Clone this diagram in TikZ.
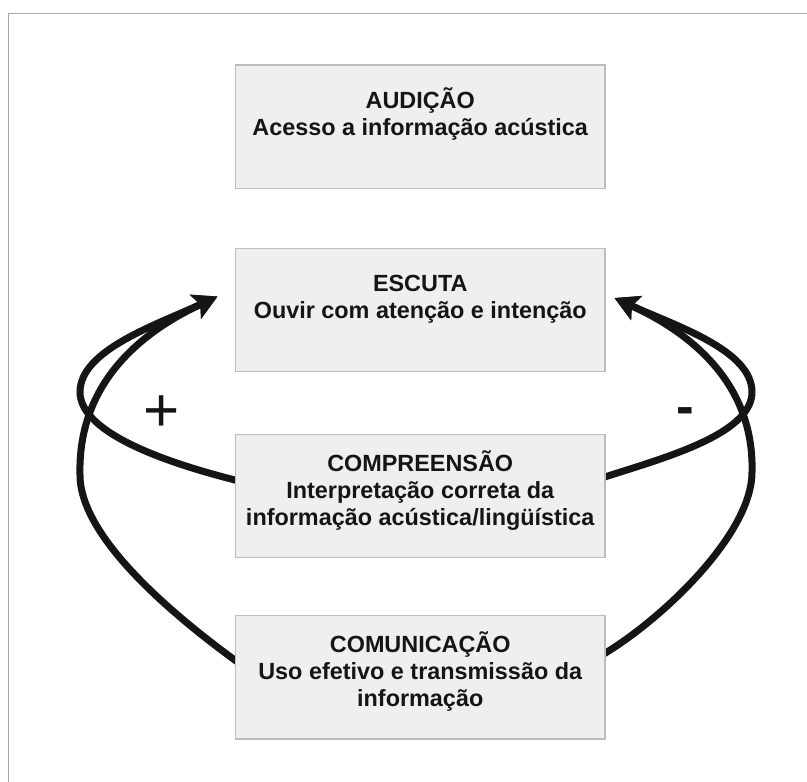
\documentclass[tikz,border=0pt]{standalone}
\usepackage{fontspec}
\setmainfont{Liberation Sans}
\usetikzlibrary{arrows.meta,backgrounds}
\definecolor{boxfill}{HTML}{EFEFEF}
\definecolor{boxline}{HTML}{BDBDBD}
\definecolor{frameline}{HTML}{A8A8A8}
\definecolor{ink}{HTML}{161414}
\newcommand{\boxtext}[1]{\fontsize{23.4}{27}\selectfont\bfseries\begin{tabular}[t]{@{}c@{}}#1\end{tabular}}
\begin{document}
\begin{tikzpicture}[x=1pt,y=-1pt,
  box/.style={draw=boxline, fill=boxfill, line width=1.3pt, minimum width=369.5pt, minimum height=123.5pt, inner sep=0pt},
  boxlabel/.style={anchor=base, inner sep=0pt, text=ink},
  loopline/.style={draw=ink, line width=7pt, -{Stealth[length=24pt,width=26pt,inset=5pt]}},
  sign/.style={anchor=base, inner sep=0pt, text=ink}]
\useasboundingbox (0,0) rectangle (807,782);
\draw[frameline, line width=1pt] (8,782) -- (8,13) -- (807,13);

\node[box] (aud) at (420.25,126.75) {};
\node[box] (esc) at (420.25,310) {};
\node[box] (compr) at (420.25,496) {};
\node[box] (comun) at (420.25,677.25) {};

\node[boxlabel] (audt) at (420.25,108) {\boxtext{AUDIÇÃO\\Acesso a informação acústica}};
\node[boxlabel] (esct) at (420.25,291.5) {\boxtext{ESCUTA\\Ouvir com atenção e intenção}};
\node[boxlabel] (comprt) at (420.25,471) {\boxtext{COMPREENSÃO\\Interpretação correta da\\informação acústica/lingüística}};
\node[boxlabel] (comunt) at (420.25,652) {\boxtext{COMUNICAÇÃO\\Uso efetivo e transmissão da\\informação}};

\node[sign, font=\fontsize{62}{62}\selectfont] (plus) at (161.7,431.8) {+};
\node[sign, font=\fontsize{53}{53}\selectfont\bfseries] (minus) at (685,424.3) {-};

\coordinate (ltip) at (217.5,296.5);
\coordinate (rtip) at (614.5,298);

\begin{scope}[on background layer]
\draw[loopline] ([xshift=4pt,yshift=15pt]compr.west) .. controls (175,465) and (80,435) .. (80,392) .. controls (80,350) and (157,324.6) .. (ltip);
\draw[loopline] ([xshift=4pt,yshift=14.25pt]comun.west) .. controls (181,621) and (80,540) .. (80,475) .. controls (78,400) and (120,342) .. (ltip);
\draw[loopline] ([xshift=-4pt,yshift=18pt]compr.east) .. controls (660,459) and (752,435) .. (752,392) .. controls (752,350) and (675,325.6) .. (rtip);
\draw[loopline] ([xshift=-4pt,yshift=22pt]comun.east) .. controls (660,621) and (752,535) .. (752,472) .. controls (754,400) and (712,342.6) .. (rtip);
\end{scope}
\end{tikzpicture}
\end{document}
